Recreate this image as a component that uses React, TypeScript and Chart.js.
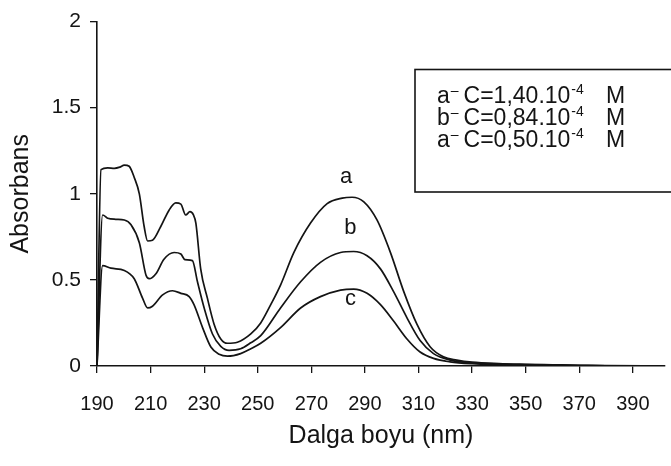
import React, { useEffect, useRef } from "react";
import { Chart, registerables } from "chart.js";

Chart.register(...registerables);

// Wavelength (nm) and absorbance readings for each curve
const waveA = [190, 191.5, 194, 196.5, 198.5, 200.2, 202, 203.9, 205.8, 207.6, 208.9, 210.7, 213.8, 216.9, 219.4, 221.3, 223.1, 224.7, 226, 226.9, 228.7, 231.2, 233.7, 236.2, 238.7, 242.4, 247.4, 251.1, 254.8, 258.5, 263.5, 269.7, 275.9, 281.5, 285.2, 289.6, 294.5, 299.5, 304.5, 309.4, 314.4, 319.3, 324.3, 330, 340, 350, 360, 370, 380, 402];
const absA = [0, 1.14, 1.15, 1.148, 1.155, 1.167, 1.16, 1.095, 1.0, 0.81, 0.726, 0.73, 0.81, 0.905, 0.947, 0.94, 0.877, 0.896, 0.877, 0.83, 0.564, 0.394, 0.243, 0.157, 0.132, 0.138, 0.186, 0.25, 0.355, 0.47, 0.66, 0.83, 0.943, 0.975, 0.98, 0.953, 0.848, 0.66, 0.432, 0.243, 0.11, 0.053, 0.034, 0.022, 0.014, 0.01, 0.007, 0.004, 0.002, 0];

const waveB = [190, 192.1, 194, 197, 200.2, 202.7, 205.8, 208.3, 209.5, 212, 215, 218.8, 221.3, 222.8, 225.6, 227.5, 230, 233.1, 236.2, 239.3, 243.6, 247.4, 251.1, 258.5, 266, 273.4, 280.9, 285.8, 290.8, 295.8, 300.7, 305.7, 310.6, 315.6, 321.8, 330, 340, 350, 360, 370, 380, 402];
const absB = [0, 0.877, 0.858, 0.852, 0.848, 0.82, 0.716, 0.527, 0.507, 0.536, 0.62, 0.659, 0.65, 0.618, 0.612, 0.489, 0.337, 0.186, 0.114, 0.091, 0.1, 0.135, 0.176, 0.337, 0.489, 0.602, 0.659, 0.665, 0.64, 0.564, 0.432, 0.28, 0.148, 0.072, 0.034, 0.018, 0.011, 0.008, 0.005, 0.003, 0.001, 0];

const waveC = [190, 192.1, 195.2, 200.2, 203.9, 207, 208.9, 210.7, 214.5, 218.2, 221.3, 224.4, 226.2, 229.4, 232.5, 235.6, 238.7, 243.6, 247.4, 251.1, 258.5, 266, 273.4, 280.9, 285.8, 290.8, 295.8, 300.7, 305.7, 310.6, 315.6, 321.8, 330, 340, 350, 360, 370, 380, 402];
const absC = [0, 0.583, 0.568, 0.555, 0.507, 0.394, 0.337, 0.347, 0.413, 0.437, 0.422, 0.403, 0.356, 0.223, 0.11, 0.068, 0.057, 0.072, 0.1, 0.132, 0.223, 0.337, 0.403, 0.441, 0.447, 0.422, 0.356, 0.261, 0.157, 0.081, 0.044, 0.024, 0.013, 0.008, 0.005, 0.003, 0.002, 0.001, 0];

const xTicks = [190, 210, 230, 250, 270, 290, 310, 330, 350, 370, 390];
const yTicks = [0, 0.5, 1, 1.5, 2];
const yTickLabels = ["0", "0.5", "1", "1.5", "2"];

// Curve labels and where they sit (data coordinates)
const curveLabels = ["a", "b", "c"];
const curveLabelX = [283, 284.6, 284.6];
const curveLabelY = [1.1, 0.8, 0.39];

// Legend box text
const legendPrefix = ["a", "b", "a"];
const legendConc = ["1,40", "0,84", "0,50"];
const legendExp = "-4";
const legendUnit = "M";

const FONT = "'Liberation Sans', Arial, sans-serif";
const INK = "#141414";

const toPoints = (xs: number[], ys: number[]) => xs.map((x, i) => ({ x, y: ys[i] }));

const annotationPlugin = {
  id: "annotations",
  afterDraw(chart: any) {
    const { ctx, scales } = chart;
    const xs = scales.x;
    const ys = scales.y;
    ctx.save();
    ctx.fillStyle = INK;
    // curve labels
    ctx.font = `22px ${FONT}`;
    ctx.textAlign = "center";
    ctx.textBaseline = "middle";
    curveLabels.forEach((t, i) => {
      ctx.fillText(t, xs.getPixelForValue(curveLabelX[i]), ys.getPixelForValue(curveLabelY[i]));
    });
    // legend box
    ctx.strokeStyle = INK;
    ctx.lineWidth = 1.6;
    ctx.strokeRect(415, 69.5, 300, 122.5);
    ctx.textAlign = "left";
    ctx.textBaseline = "alphabetic";
    legendPrefix.forEach((p, i) => {
      const base = 103 + i * 22;
      let x = 437;
      ctx.font = `23px ${FONT}`;
      ctx.fillText(p, x, base);
      x += ctx.measureText(p).width + 1;
      ctx.font = `14px ${FONT}`;
      ctx.fillText("\u2013", x, base - 8);
      x += ctx.measureText("\u2013").width + 5;
      ctx.font = `23px ${FONT}`;
      const main = `C=${legendConc[i]}.10`;
      ctx.fillText(main, x, base);
      x += ctx.measureText(main).width + 1;
      ctx.font = `14px ${FONT}`;
      ctx.fillText(legendExp, x, base - 9);
      ctx.font = `23px ${FONT}`;
      ctx.fillText(legendUnit, 606, base);
    });
    ctx.restore();
  },
};

export default function App() {
  const canvasRef = useRef<HTMLCanvasElement | null>(null);

  useEffect(() => {
    document.body.style.margin = "0";
    const canvas = canvasRef.current;
    if (!canvas) return;
    const lineDs = (xs: number[], ys: number[]) => ({
      data: toPoints(xs, ys),
      borderColor: INK,
      borderWidth: 1.7,
      pointRadius: 0,
      fill: false,
      cubicInterpolationMode: "monotone" as const,
    });
    const chart = new Chart(canvas, {
      type: "line",
      data: {
        datasets: [lineDs(waveA, absA), lineDs(waveB, absB), lineDs(waveC, absC)],
      },
      options: {
        animation: false,
        responsive: true,
        maintainAspectRatio: false,
        layout: { padding: { top: 14, right: 6, left: 0, bottom: 0 } },
        plugins: { legend: { display: false }, tooltip: { enabled: false } },
        scales: {
          x: {
            type: "linear",
            min: 190,
            max: 402,
            afterBuildTicks: (s: any) => {
              s.ticks = xTicks.map((v) => ({ value: v }));
            },
            afterFit: (s: any) => {
              s.height = 100;
            },
            grid: { drawOnChartArea: false, drawTicks: true, tickLength: 7, color: INK, lineWidth: 1.3 },
            border: { display: true, color: INK, width: 1.6 },
            ticks: { color: INK, font: { family: FONT, size: 20 }, padding: 19, maxRotation: 0, autoSkip: false },
            title: {
              display: true,
              text: "Dalga boyu (nm)",
              color: INK,
              font: { family: FONT, size: 25 },
              padding: { top: 0, bottom: 15 },
            },
          },
          y: {
            type: "linear",
            min: 0,
            max: 2,
            afterBuildTicks: (s: any) => {
              s.ticks = yTicks.map((v) => ({ value: v }));
            },
            afterFit: (s: any) => {
              s.width = 97;
            },
            grid: { drawOnChartArea: false, drawTicks: true, tickLength: 7, color: INK, lineWidth: 1.3 },
            border: { display: true, color: INK, width: 1.6 },
            ticks: {
              color: INK,
              font: { family: FONT, size: 21 },
              padding: 9,
              callback: (_v: any, i: number) => yTickLabels[i],
            },
            title: {
              display: true,
              text: "Absorbans",
              color: INK,
              font: { family: FONT, size: 25 },
              padding: { top: 6, bottom: 0 },
            },
          },
        },
      },
      plugins: [annotationPlugin],
    });
    return () => chart.destroy();
  }, []);

  return (
    <div style={{ width: 671, height: 466, position: "relative", background: "#fff" }}>
      <canvas ref={canvasRef} />
    </div>
  );
}
